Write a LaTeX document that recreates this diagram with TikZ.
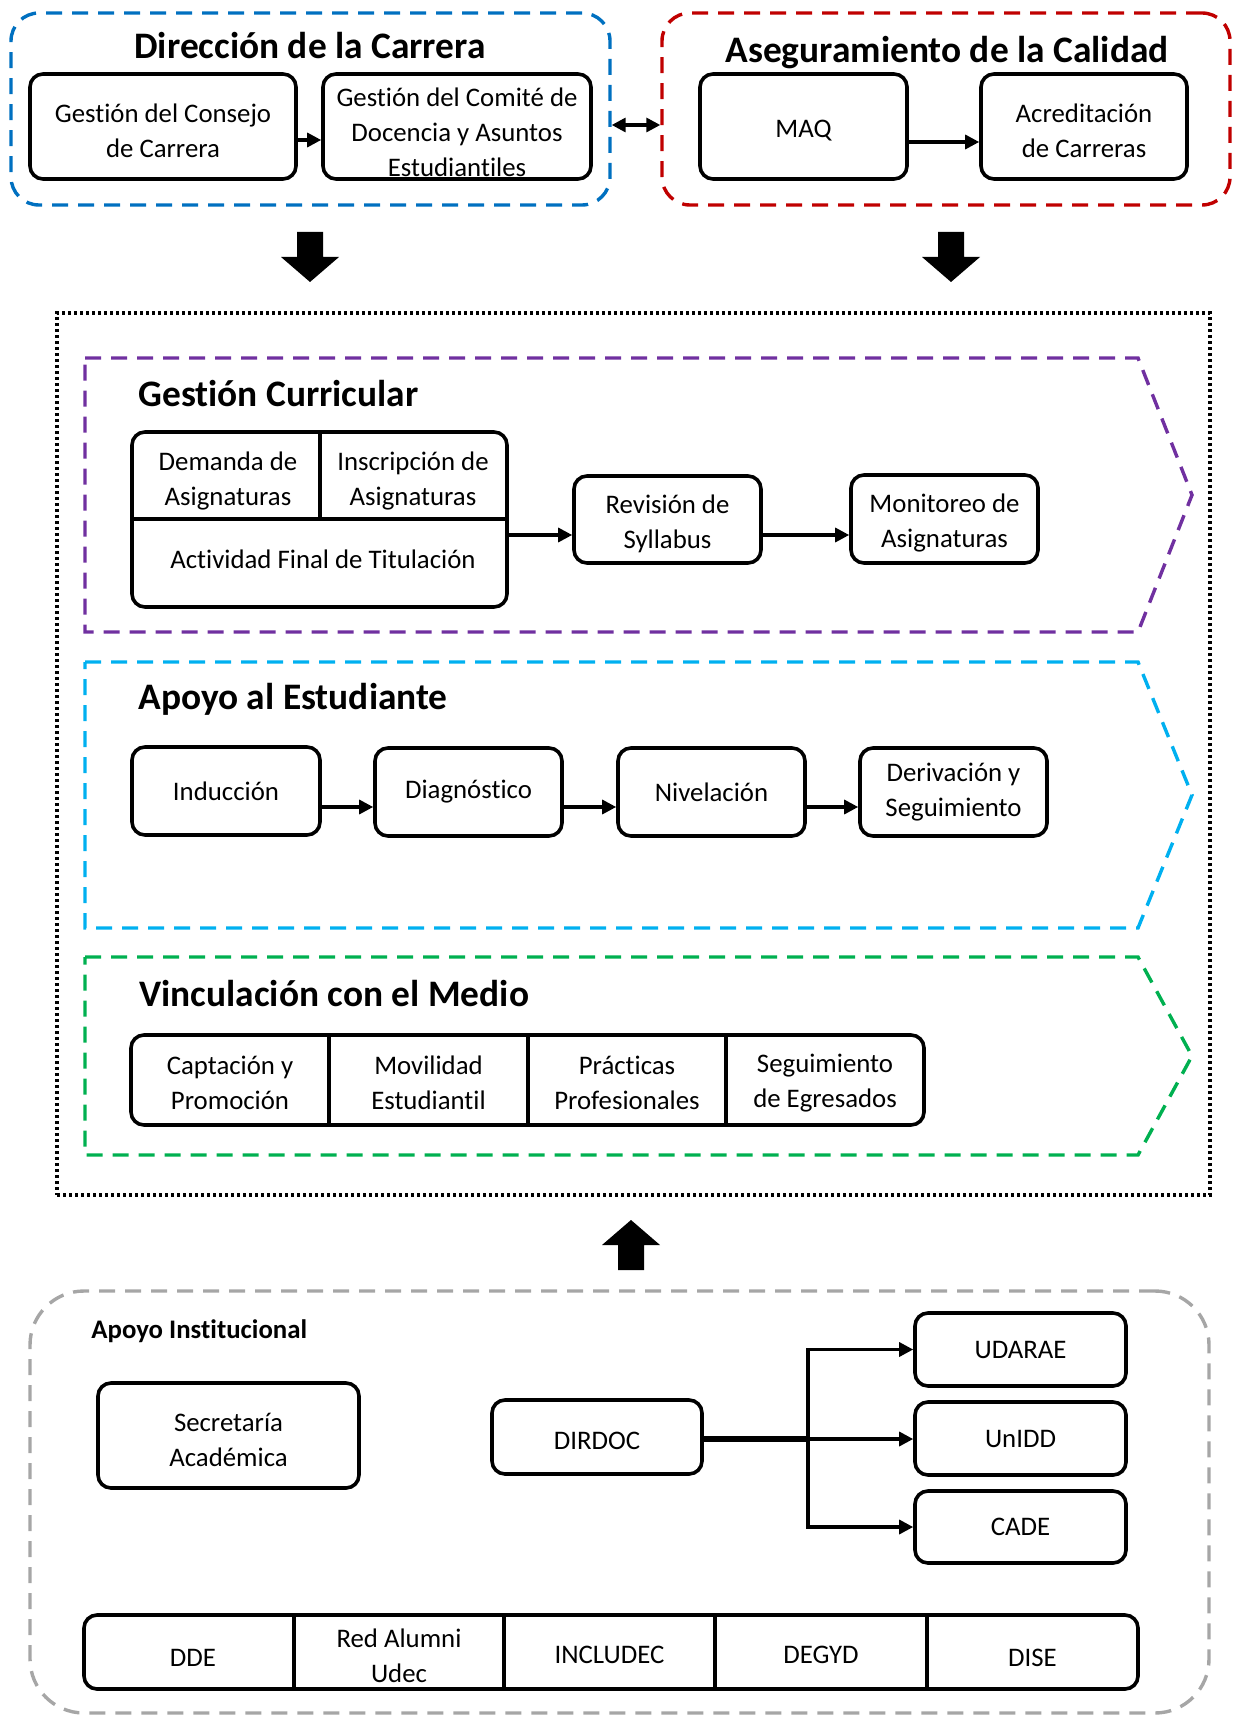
\documentclass[tikz,border=0pt]{standalone}
\usepackage{fontspec}
\setmainfont{Carlito}[Ligatures=NoCommon]
\usetikzlibrary{arrows.meta,calc}
\definecolor{cblue}{HTML}{0070C0}
\definecolor{cred}{HTML}{C00000}
\definecolor{cpurple}{HTML}{7030A0}
\definecolor{ccyan}{HTML}{00B0F0}
\definecolor{cgreen}{HTML}{00B050}
\definecolor{cgray}{HTML}{A6A6A6}
\newcommand\bodyfont{\fontsize{13.4}{17.5}\selectfont}
\newcommand\headfont{\fontsize{18.7}{22}\selectfont\bfseries}
\begin{document}
\begin{tikzpicture}[x=0.5pt,y=-0.5pt,
  boxat/.style n args={4}{at={({(#1+#3)/2},{(#2+#4)/2})},
    minimum width={(#3-#1)*0.5pt},minimum height={(#4-#2)*0.5pt}},
  box/.style={draw,rounded corners=6.5pt,line width=1.8pt,inner sep=1pt},
  cell/.style={align=center,font=\bodyfont,inner sep=0pt},
  txt/.style={label={[cell,yshift=-2pt]center:{#1}}},
  ctxt/.style={label={[cell]center:{#1}}},
  grp/.style={line width=1.7pt,dash pattern=on 8pt off 5pt},
  band/.style={line width=1.7pt,dash pattern=on 8pt off 5pt,line join=miter},
  dotbox/.style={draw,line width=1.6pt,dash pattern=on 1.5pt off 1.5pt},
  head/.style={font=\headfont,inner sep=0pt},
  subhead/.style={font=\bodyfont\bfseries,inner sep=0pt},
  divider/.style={line width=1.8pt},
  arr/.style={line width=1.6pt,-{Triangle[length=7pt,width=7pt]}},
  dblarr/.style={line width=1.6pt,{Triangle[length=7pt,width=7pt]}-{Triangle[length=7pt,width=7pt]}},
  blockarrow/.pic={\fill (-13,0) -- (13,0) -- (13,25) -- (29,25) -- (0,50) -- (-29,25) -- (-13,25) -- cycle;},
]
\useasboundingbox (0,0) rectangle (1234,1716);

% ---- top groups
\node[boxat={11}{13}{610}{205},draw=cblue,grp,rounded corners=14pt] (dirgrp) {};
\node[boxat={662}{13}{1230}{205},draw=cred,grp,rounded corners=14pt] (calgrp) {};
\node[head,anchor=base] (dirttl) at (310,59) {Dirección de la Carrera};
\node[head,anchor=base] (calttl) at (947,63) {Aseguramiento de la Calidad};
\node[box,boxat={30}{74}{296}{179},txt={Gestión del Consejo\\de Carrera}] (consejo) {};
\node[box,boxat={323}{74}{591}{179},label={[cell,yshift=-3pt]center:{Gestión del Comité de\\Docencia y Asuntos\\Estudiantiles}}] (comite) {};
\node[box,boxat={700}{74}{907}{179},txt={MAQ}] (maq) {};
\node[box,boxat={981}{74}{1187}{179},txt={Acreditación\\de Carreras}] (acred) {};
\coordinate (y1) at (0,140);
\coordinate (y2) at (0,142);
\coordinate (y3) at (0,125);
\draw[arr] (consejo.east |- y1) -- (comite.west |- y1);
\draw[arr] (maq.east |- y2) -- (acred.west |- y2);
\draw[dblarr] (dirgrp.east |- y3) -- (calgrp.west |- y3);

\pic at (310,232) {blockarrow};
\pic at (951,232) {blockarrow};

% ---- core
\node[dotbox,boxat={57}{313}{1210}{1195}] (core) {};

% Gestion curricular
\draw[band,draw=cpurple] (85,358) -- (1138,358) -- (1192,495) -- (1138,632) -- (85,632) -- cycle;
\node[head,anchor=base west] (gcttl) at (138,407) {Gestión Curricular};
\node[box,boxat={132}{432}{507}{607}] (gc) {};
\draw[divider] (320,432) -- (320,519) (132,519) -- (507,519);
\node[cell] (demanda) at (228,481) {Demanda de\\Asignaturas};
\node[cell] (inscrip) at (413,481) {Inscripción de\\Asignaturas};
\node[cell] (afin) at (323,559) {Actividad Final de Titulación};
\node[box,boxat={574}{476}{761}{563},txt={Revisión de\\Syllabus}] (revision) {};
\node[box,boxat={851}{475}{1038}{563},txt={Monitoreo de\\Asignaturas}] (monitoreo) {};
\coordinate (gcy) at (0,535);
\draw[arr] (gc.east |- gcy) -- (revision.west |- gcy);
\draw[arr] (revision.east |- gcy) -- (monitoreo.west |- gcy);

% Apoyo al estudiante
\draw[band,draw=ccyan] (85,662) -- (1138,662) -- (1192,795) -- (1138,928) -- (85,928) -- cycle;
\node[head,anchor=base west] (aettl) at (138,709) {Apoyo al Estudiante};
\node[box,boxat={132}{747}{320}{835},ctxt={Inducción}] (induc) {};
\node[box,boxat={375}{748}{562}{836},ctxt={Diagnóstico}] (diag) {};
\node[box,boxat={618}{748}{805}{836},ctxt={Nivelación}] (nivel) {};
\node[box,boxat={860}{748}{1047}{836},ctxt={Derivación y\\Seguimiento}] (deriv) {};
\coordinate (aey) at (0,807);
\draw[arr] (induc.east |- aey) -- (diag.west |- aey);
\draw[arr] (diag.east |- aey) -- (nivel.west |- aey);
\draw[arr] (nivel.east |- aey) -- (deriv.west |- aey);

% Vinculacion con el medio
\draw[band,draw=cgreen] (85,957) -- (1138,957) -- (1192,1056) -- (1138,1155) -- (85,1155) -- cycle;
\node[head,anchor=base west] (vmttl) at (139,1006) {Vinculación con el Medio};
\node[box,boxat={131}{1035}{924}{1125}] (vm) {};
\draw[divider] (329,1035) -- (329,1125) (528,1035) -- (528,1125) (726,1035) -- (726,1125);
\node[cell] (capt) at (230,1083) {Captación y\\Promoción};
\node[cell] (movil) at (428.5,1083) {Movilidad\\Estudiantil};
\node[cell] (pract) at (627,1083) {Prácticas\\Profesionales};
\node[cell] (segui) at (825,1083) {Seguimiento\\de Egresados};

\pic[rotate=180] at (631,1270) {blockarrow};

% ---- Apoyo institucional
\node[boxat={30}{1291}{1209}{1713},draw=cgray,grp,rounded corners=27pt] (instgrp) {};
\node[subhead,anchor=base west] (aittl) at (91,1338) {Apoyo Institucional};
\node[box,boxat={98}{1383}{359}{1488},txt={Secretaría\\Académica}] (secre) {};
\node[box,boxat={492}{1400}{702}{1474},txt={DIRDOC}] (dirdoc) {};
\node[box,boxat={915}{1313}{1126}{1386},ctxt={UDARAE}] (udarae) {};
\node[box,boxat={915}{1402}{1126}{1475},ctxt={UnIDD}] (unidd) {};
\node[box,boxat={915}{1491}{1126}{1563},ctxt={CADE}] (cade) {};
\coordinate (j) at (808,1439);
\draw[line width=2.8pt] (dirdoc.east |- j) -- (j);
\draw[arr] (j) |- (udarae.west);
\draw[arr] (j) -- (unidd.west |- j);
\draw[arr] (j) |- (cade.west);

\node[box,boxat={84}{1615}{1138}{1689}] (strip) {};
\draw[divider] (294,1615) -- (294,1689) (504,1615) -- (504,1689) (715,1615) -- (715,1689) (927,1615) -- (927,1689);
\node[cell] (dde) at (193,1658) {DDE};
\node[cell] (alumni) at (399,1656) {Red Alumni\\Udec};
\node[cell] (includec) at (609.5,1655) {INCLUDEC};
\node[cell] (degyd) at (821,1655) {DEGYD};
\node[cell] (dise) at (1032.5,1658) {DISE};
\end{tikzpicture}
\end{document}
